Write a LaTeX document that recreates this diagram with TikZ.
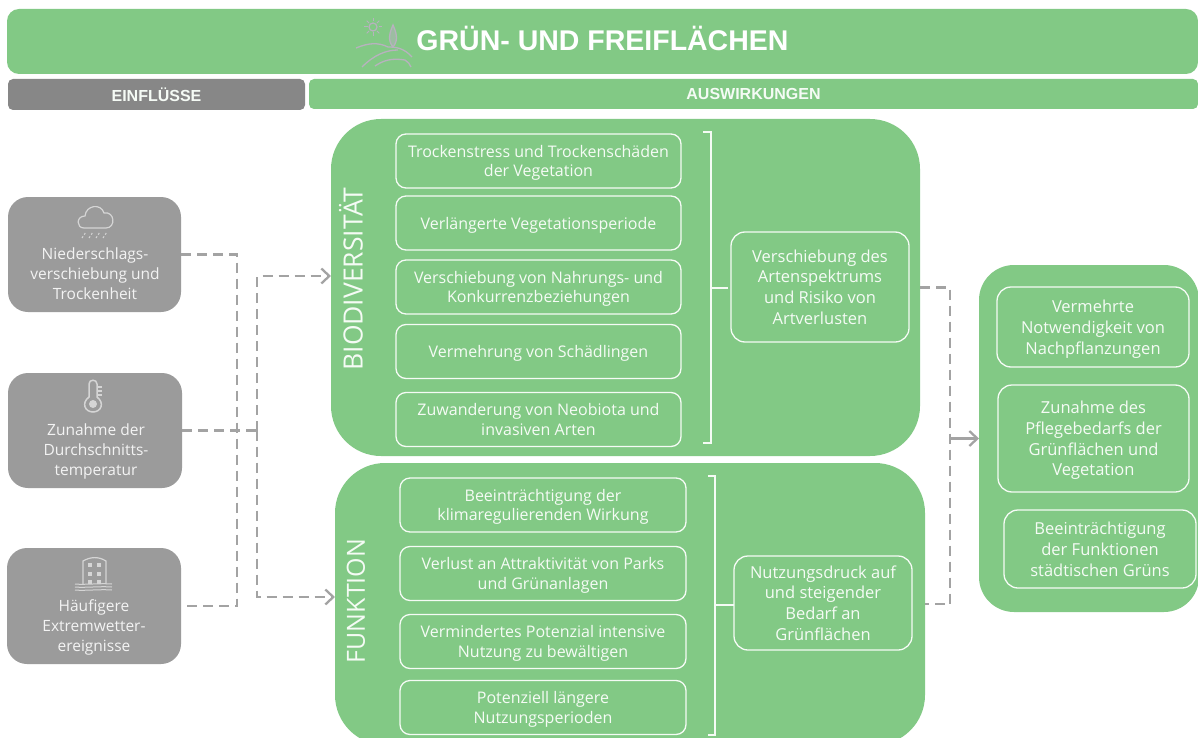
\documentclass[tikz,border=0pt]{standalone}
\usepackage{fontspec}
\setmainfont{Open Sans}
\newfontfamily\headfont{Liberation Sans}
\usetikzlibrary{arrows.meta, positioning, calc}
\definecolor{green1}{RGB}{130, 201, 133}
\definecolor{gray1}{RGB}{155, 155, 155}
\definecolor{gray2}{RGB}{135, 135, 135}
\definecolor{line1}{RGB}{163, 163, 163}
\definecolor{icon1}{RGB}{183, 178, 190}
\tikzset{
  panelbox/.style={fill=green1, rounded corners=50pt, inner sep=0pt, outer sep=0pt},
  itembox/.style={draw=white!92!green1, line width=1.3pt, rounded corners=10pt, inner sep=0pt, outer sep=0pt,
    text=white!92!green1, align=center, font=\fontsize{16}{19.8}\selectfont},
  oneline/.style={itembox, execute at begin node=\rule{0pt}{16pt}},
  twoline/.style={itembox, text depth=0pt},
  bigbox/.style={itembox, rounded corners=14pt, font=\fontsize{16.5}{20.8}\selectfont, text depth=0pt},
  greybox/.style={fill=gray1, rounded corners=20pt, inner sep=0pt, outer sep=0pt, minimum width=174pt, minimum height=115pt},
  greylabel/.style={text=white!88!gray1, align=center, font=\fontsize{15.5}{20}\selectfont, inner sep=0pt},
  barbox/.style={rounded corners=5pt, inner sep=0pt, outer sep=0pt, text=white!92!green1, font=\headfont\bfseries\fontsize{16}{18}\selectfont},
  sidelabel/.style={rotate=90, text=white!92!green1, inner sep=0pt, font=\fontsize{26.5}{28}\selectfont},
  dashline/.style={draw=line1, line width=2.5pt, dash pattern=on 10pt off 6pt},
  arrowline/.style={dashline, -{Straight Barb[length=8pt,width=15pt,line width=2.3pt]}},
  bracketline/.style={draw=white!92!green1, line width=1.8pt},
  iconline/.style={draw=white!58!gray1, line width=1.2pt},
}
\begin{document}
\begin{tikzpicture}[x=1pt, y=-1pt]
  \useasboundingbox (0,0) rectangle (1198,738);
  % header
  \node[panelbox, rounded corners=12pt, minimum width=1191pt, minimum height=65pt] (header) at (602.5,41.5) {};
  \node[inner sep=0pt, text=white, font=\headfont\bfseries\fontsize{28.5}{30}\selectfont] (title) at (602.5,38.5) {GRÜN- UND FREIFLÄCHEN};
  \node[barbox, fill=gray2, minimum width=297pt, minimum height=31pt] (einfluesse) at (156.5,94.5) {EINFLÜSSE};
  \node[barbox, fill=green1, minimum width=889pt, minimum height=30pt] (auswirkungen) at (753.5,94) {AUSWIRKUNGEN};

  % title icon
  \draw[icon1, line width=1.2pt] (373,27) circle (4pt);
  \foreach \a in {0,45,...,315} {
    \draw[icon1, line width=1pt] ($(373,27)+(\a:5.5pt)$) -- ($(373,27)+(\a:9pt)$);
  }
  \draw[icon1, line width=1.3pt, fill=icon1!50!green1] (393,47) .. controls (387,40) and (390,32) .. (393,25) .. controls (396,32) and (399,40) .. (393,47) -- cycle;
  \draw[icon1, line width=1.3pt] (356,48) .. controls (368,43) and (378,42) .. (388,47) .. controls (396,47) and (404,48) .. (412,57);
  \draw[icon1, line width=1.3pt] (362,67) .. controls (374,55) and (386,50) .. (398,50);
  \draw[icon1, line width=1.3pt] (375,66) .. controls (384,60) and (392,58) .. (405,60) .. controls (408,62) and (410,64) .. (411,67);

  % left boxes
  \node[greybox, minimum width=173pt] (niederschlag) at (94.5,254.5) {};
  \node[greybox] (temperatur) at (95,430.5) {};
  \node[greybox, minimum height=116pt] (extrem) at (94,606) {};
  \node[greylabel] (niederText) at (95,274) {Niederschlags-\\verschiebung und\\Trockenheit};
  \node[greylabel] (temperaturText) at (96,451) {Zunahme der\\Durchschnitts-\\temperatur};
  \node[greylabel] (extremText) at (94,627) {Häufigere\\Extremwetter-\\ereignisse};

  % cloud
  \draw[iconline] (84,228) .. controls (76,228) and (76,216) .. (85,216) .. controls (86,205) and (101,203) .. (104,213) .. controls (115,211) and (116,228) .. (106,228) -- cycle;
  \foreach \x in {82,89,96,103} {
    \draw[iconline, line width=1pt, dash pattern=on 2pt off 2pt] (\x,238) -- (\x+4,232);
  }
  % thermometer
  \draw[iconline, line width=1.5pt] (89,397) -- (89,384) .. controls (89,379) and (97,379) .. (97,384) -- (97,397) .. controls (105,403) and (101,412) .. (93,412) .. controls (85,412) and (81,403) .. (89,397) -- cycle;
  \fill[white!58!gray1] (93,404) circle (4pt);
  \foreach \y in {387,391,395} {
    \draw[iconline] (97,\y) -- (102,\y);
  }
  % building
  \draw[iconline] (83,584) -- (83,561) .. controls (90,557) and (98,556) .. (106,561) -- (106,584);
  \foreach \y in {565,574,582} {
    \fill[white!58!gray1] (88,\y-2) rectangle (92,\y+2);
    \fill[white!58!gray1] (97,\y-2) rectangle (101,\y+2);
  }
  \foreach \y in {584,587,590} {
    \draw[iconline, line width=1pt] (75,\y) .. controls (85,\y+1) and (100,\y-1) .. (112,\y);
  }

  % Biodiversitaet
  \node[panelbox, minimum width=589pt, minimum height=337pt] (biodiv) at (625.5,287.5) {};
  \node[sidelabel] (biodivLabel) at (351,279) {BIODIVERSITÄT};
  \node[twoline, minimum width=285pt, minimum height=54pt] (bio1) at (538.5,161) {Trockenstress und Trockenschäden\\der Vegetation};
  \node[oneline, minimum width=285pt, minimum height=54pt] (bio2) at (538.5,223) {Verlängerte Vegetationsperiode};
  \node[twoline, minimum width=285pt, minimum height=54pt] (bio3) at (538.5,287) {Verschiebung von Nahrungs- und\\Konkurrenzbeziehungen};
  \node[oneline, minimum width=285pt, minimum height=54pt] (bio4) at (538.5,351.5) {Vermehrung von Schädlingen};
  \node[twoline, minimum width=285pt, minimum height=54pt] (bio5) at (538.5,419.5) {Zuwanderung von Neobiota und\\invasiven Arten};
  \node[bigbox, minimum width=178pt, minimum height=110pt] (artenBox) at (820,287) {Verschiebung des\\Artenspektrums\\und Risiko von\\Artverlusten};
  \coordinate (bioBrace) at (711,288);
  \draw[bracketline] (703,132) -- (711,132) -- (711,443) -- (703,443);
  \draw[bracketline, shorten >=3pt] (bioBrace) -- (artenBox.west |- bioBrace);

  % Funktion
  \node[panelbox, minimum width=590pt, minimum height=282pt] (funktion) at (630,604) {};
  \node[sidelabel, font=\fontsize{25}{27}\selectfont] (funktionLabel) at (356,601) {FUNKTION};
  \node[twoline, minimum width=286pt, minimum height=54pt] (fun1) at (543,505) {Beeinträchtigung der\\klimaregulierenden Wirkung};
  \node[twoline, minimum width=286pt, minimum height=54pt] (fun2) at (543,573.5) {Verlust an Attraktivität von Parks\\und Grünanlagen};
  \node[twoline, minimum width=286pt, minimum height=54pt] (fun3) at (543,641.5) {Vermindertes Potenzial intensive\\Nutzung zu bewältigen};
  \node[twoline, minimum width=286pt, minimum height=54pt] (fun4) at (543,707.5) {Potenziell längere\\Nutzungsperioden};
  \node[bigbox, minimum width=178pt, minimum height=94pt] (nutzungBox) at (823,603) {Nutzungsdruck auf\\und steigender\\Bedarf an\\Grünflächen};
  \coordinate (funBrace) at (715,605);
  \draw[bracketline] (708,476) -- (715,476) -- (715,735) -- (708,735);
  \draw[bracketline] (funBrace) -- (nutzungBox.west |- funBrace);

  % right panel
  \node[panelbox, rounded corners=35pt, minimum width=220pt, minimum height=347pt] (folgen) at (1089,438.5) {};
  \node[bigbox, minimum width=192pt, minimum height=80pt] (folge1) at (1093,327) {Vermehrte\\Notwendigkeit von\\Nachpflanzungen};
  \node[bigbox, minimum width=191pt, minimum height=107pt] (folge2) at (1093.5,438.5) {Zunahme des\\Pflegebedarfs der\\Grünflächen und\\Vegetation};
  \node[bigbox, minimum width=192pt, minimum height=78pt] (folge3) at (1100,549) {Beeinträchtigung\\der Funktionen\\städtischen Grüns};

  % connectors
  \coordinate (joinA) at (237,430.5);
  \coordinate (joinB) at (257,430.5);
  \coordinate (joinC) at (950,438.5);
  \coordinate (bioIn) at (331,276);
  \coordinate (funIn) at (335,597);
  \draw[dashline] (niederschlag.east) -| (joinA) |- (extrem.east);
  \draw[dashline] (temperatur.east) -- (joinB);
  \draw[arrowline] (joinB) |- (bioIn);
  \draw[arrowline] (joinB) |- (funIn);
  \draw[dashline] (biodiv.east) -| (joinC) |- (funktion.east);
  \draw[line1, line width=2.5pt, -{Straight Barb[length=8pt,width=15pt,line width=2.3pt]}] (joinC) -- (folgen.west);
\end{tikzpicture}
\end{document}
